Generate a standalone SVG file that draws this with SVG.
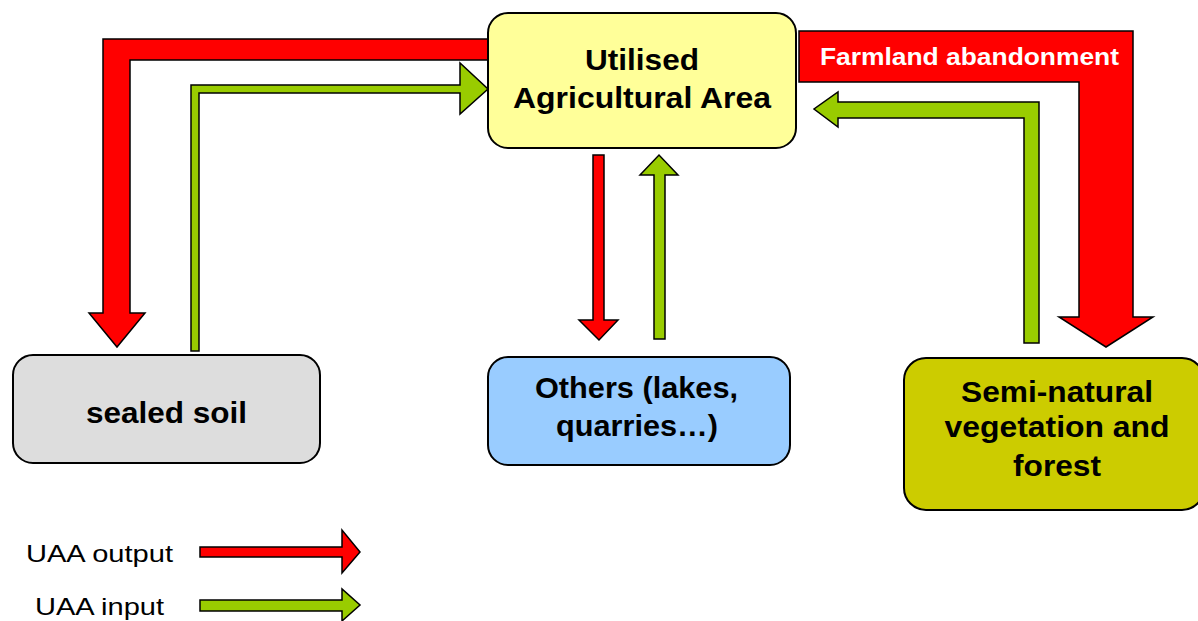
<svg xmlns="http://www.w3.org/2000/svg" width="1198" height="621" viewBox="0 0 1198 621">
<style>
.box{stroke:#000;stroke-width:2}
.red{fill:#FF0000;stroke:#000;stroke-width:1.5;stroke-linejoin:miter}
.green{fill:#99CC00;stroke:#000;stroke-width:1.5;stroke-linejoin:miter}
.lbl{font-family:"Liberation Sans",Arial,sans-serif;font-weight:bold;font-size:30px;fill:#000;text-anchor:middle}
.leg{font-family:"Liberation Sans",Arial,sans-serif;font-size:24px;fill:#000}
</style>
<rect width="1198" height="621" fill="#fff"/>
<g id="connectors">
<path class="red" d="M490,39 L103,39 L103,313 L89,313 L117,347 L145,313 L130,313 L130,60 L490,60 Z"/>
<path class="green" d="M191,351 L191,85 L460,85 L460,63 L488,89 L460,114 L460,93 L199,93 L199,351 Z"/>
<path class="red" d="M799,31 L1133,31 L1133,317 L1153,317 L1106,347 L1059,317 L1079,317 L1079,82 L799,82 Z"/>
<text x="969.5" y="65" textLength="299" lengthAdjust="spacingAndGlyphs" style="font-family:'Liberation Sans',Arial,sans-serif;font-weight:bold;font-size:24px;fill:#fff;text-anchor:middle">Farmland abandonment</text>
<path class="green" d="M1039,343 L1039,102 L838,102 L838,92 L814,109 L838,127 L838,118 L1024,118 L1024,343 Z"/>
<path class="red" d="M593,155 L604,155 L604,320 L618,320 L599,340 L579,320 L593,320 Z"/>
<path class="green" d="M654,339 L654,175 L640,175 L659,155 L678,175 L665,175 L665,339 Z"/>
</g>
<g id="uaa">
<rect class="box" x="488" y="13" width="308" height="135" rx="20" fill="#FFFF99"/>
<text class="lbl" x="642" y="70" textLength="114" lengthAdjust="spacingAndGlyphs">Utilised</text>
<text class="lbl" x="642" y="108" textLength="258" lengthAdjust="spacingAndGlyphs">Agricultural Area</text>
</g>
<g id="sealed">
<rect class="box" x="13" y="355" width="307" height="108" rx="20" fill="#DDDDDD"/>
<text class="lbl" x="166.5" y="423" textLength="161" lengthAdjust="spacingAndGlyphs">sealed soil</text>
</g>
<g id="others">
<rect class="box" x="488" y="357" width="302" height="108" rx="20" fill="#99CCFF"/>
<text class="lbl" x="636.5" y="398" textLength="203" lengthAdjust="spacingAndGlyphs">Others (lakes,</text>
<text class="lbl" x="637" y="436" textLength="162" lengthAdjust="spacingAndGlyphs">quarries…)</text>
</g>
<g id="seminatural">
<rect class="box" x="904" y="358" width="300" height="152" rx="22" fill="#CCCC00"/>
<text class="lbl" x="1057" y="402" textLength="192" lengthAdjust="spacingAndGlyphs">Semi-natural</text>
<text class="lbl" x="1057" y="437" textLength="225" lengthAdjust="spacingAndGlyphs">vegetation and</text>
<text class="lbl" x="1057" y="476" textLength="88" lengthAdjust="spacingAndGlyphs">forest</text>
</g>
<g id="legend">
<text class="leg" x="26" y="562" textLength="147" lengthAdjust="spacingAndGlyphs">UAA output</text>
<path class="red" d="M200,547 L342,547 L342,530 L360,552 L342,573 L342,557 L200,557 Z"/>
<text class="leg" x="35" y="615" textLength="129" lengthAdjust="spacingAndGlyphs">UAA input</text>
<path class="green" d="M200,600 L342,600 L342,589 L360,605 L342,621 L342,611 L200,611 Z"/>
</g>
</svg>
